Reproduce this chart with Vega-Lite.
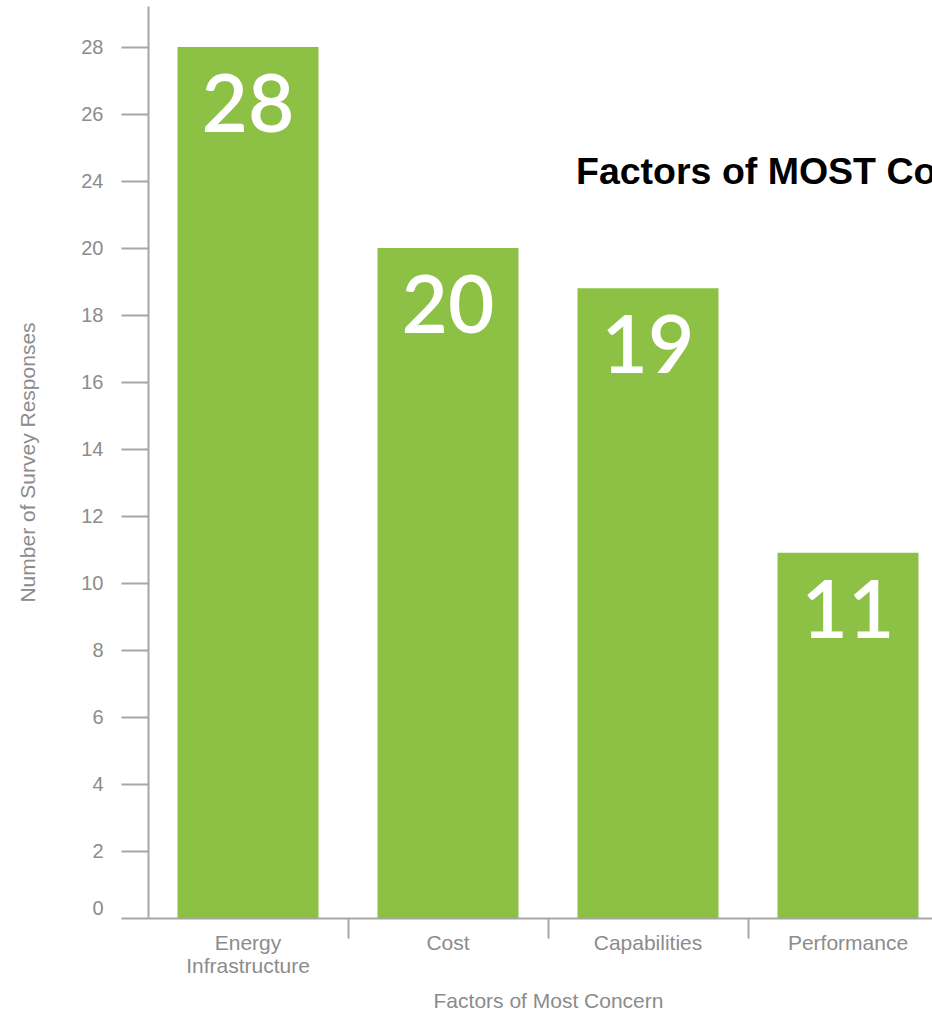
{
  "$schema": "https://vega.github.io/schema/vega-lite/v6.json",
  "autosize": "none",
  "width": 784,
  "height": 912,
  "padding": {"left": 148, "top": 6, "right": 0, "bottom": 93},
  "background": "white",
  "title": {
    "text": "Factors of MOST Concern",
    "anchor": "start",
    "frame": "group",
    "offset": 0,
    "dx": 428,
    "dy": 215,
    "baseline": "alphabetic",
    "font": "Liberation Sans",
    "fontSize": 37.5,
    "fontWeight": "bold",
    "color": "#000000"
  },
  "config": {"view": {"stroke": null}},
  "data": {
    "values": [
      {"factor": "Energy Infrastructure", "responses": 28},
      {"factor": "Cost", "responses": 20},
      {"factor": "Capabilities", "responses": 18.8},
      {"factor": "Performance", "responses": 10.9}
    ]
  },
  "encoding": {
    "x": {
      "field": "factor",
      "type": "nominal",
      "sort": null,
      "scale": {"range": [0, 800], "paddingInner": 0, "paddingOuter": 0},
      "axis": {
        "title": "Factors of Most Concern",
        "labelAngle": 0,
        "bandPosition": 1,
        "tickExtra": false,
        "tickSize": 20,
        "tickWidth": 2,
        "tickColor": "#a6a6a6",
        "domainColor": "#a6a6a6",
        "domainWidth": 2,
        "labelPadding": 11,
        "labelBaseline": "alphabetic",
        "labelLineHeight": 23,
        "labelFont": "Liberation Sans",
        "labelFontSize": 21,
        "labelColor": "#8c8c8c",
        "labelExpr": "datum.label == 'Energy Infrastructure' ? ['Energy', 'Infrastructure'] : datum.label",
        "titleFont": "Liberation Sans",
        "titleFontSize": 21,
        "titleFontWeight": "normal",
        "titleColor": "#8c8c8c",
        "titleY": 89,
        "titleBaseline": "alphabetic"
      }
    },
    "y": {
      "field": "responses",
      "type": "quantitative",
      "scale": {"domain": [0, 20, 24, 28, 29.224], "range": [912, 242, 175, 41, 0], "nice": false, "zero": false},
      "axis": {
        "title": "Number of Survey Responses",
        "values": [0, 2, 4, 6, 8, 10, 12, 14, 16, 18, 20, 24, 26, 28],
        "format": "d",
        "grid": false,
        "labelFlush": true,
        "domainColor": "#a6a6a6",
        "domainWidth": 2,
        "tickColor": "#a6a6a6",
        "tickWidth": 2,
        "tickSize": 27,
        "labelPadding": 18,
        "labelFont": "Liberation Sans",
        "labelFontSize": 20,
        "labelColor": "#8c8c8c",
        "titleFont": "Liberation Sans",
        "titleFontSize": 21,
        "titleFontWeight": "normal",
        "titleColor": "#8c8c8c",
        "titleX": -114,
        "titleBaseline": "alphabetic"
      }
    }
  },
  "layer": [
    {"mark": {"type": "bar", "color": "#8DC145", "width": {"band": 0.705}}},
    {
      "mark": {"type": "text", "color": "white", "font": "Lato", "fontSize": 80, "fontWeight": 600, "baseline": "alphabetic", "dy": 85, "align": "center"},
      "encoding": {"text": {"field": "responses", "type": "quantitative", "format": ".0f"}}
    }
  ]
}
